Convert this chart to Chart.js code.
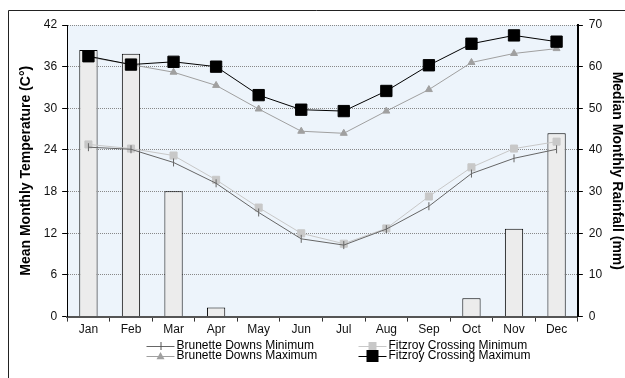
<!DOCTYPE html>
<html>
<head>
<meta charset="utf-8">
<script src="https://cdn.jsdelivr.net/npm/chart.js@4"></script>
<style>
  body { margin: 0; background: #fff; }
  #plotGraph { display: block; }
</style>
</head>
<body>
<canvas id="plotGraph" width="625" height="378"></canvas>
<script>
// データ
const months = ["Jan", "Feb", "Mar", "Apr", "May", "Jun", "Jul", "Aug", "Sep", "Oct", "Nov", "Dec"]
const rainfall = [64.0, 63.1, 30.1, 2.2, 0, 0, 0, 0, 0, 4.4, 21.1, 44.0]
const bdMin = [24.4, 24.1, 22.2, 19.2, 15.0, 11.2, 10.3, 12.6, 15.9, 20.6, 22.8, 24.1]
const bdMax = [37.4, 36.3, 35.2, 33.3, 29.9, 26.7, 26.4, 29.6, 32.7, 36.6, 37.9, 38.6]
const fcMin = [24.8, 24.2, 23.2, 19.7, 15.7, 12.0, 10.5, 12.7, 17.3, 21.5, 24.2, 25.2]
const fcMax = [37.5, 36.3, 36.7, 36.0, 31.9, 29.8, 29.6, 32.5, 36.2, 39.3, 40.5, 39.6]

const fontName = "'Liberation Sans', Arial, sans-serif"

// 枠線と背景
const framePlugin = {
  id: "frame",
  beforeDraw(chart) {
    const ctx = chart.ctx
    const a = chart.chartArea
    ctx.save()
    ctx.fillStyle = "#ffffff"
    ctx.fillRect(0, 0, chart.width, chart.height)
    ctx.strokeStyle = "#222"
    ctx.lineWidth = 1
    ctx.beginPath()
    ctx.moveTo(8.5, chart.height)
    ctx.lineTo(8.5, 10.5)
    ctx.lineTo(chart.width, 10.5)
    ctx.stroke()
    ctx.fillStyle = "#edf4fb"
    ctx.fillRect(a.left, a.top, a.right - a.left, a.bottom - a.top)
    ctx.restore()
  }
}

// 凡例(2列)
function drawMarker(ctx, style, x, y, r, color) {
  ctx.fillStyle = color
  ctx.strokeStyle = color
  ctx.beginPath()
  if (style === "rect") {
    ctx.rect(x - r, y - r, 2 * r, 2 * r)
    ctx.fill()
  } else if (style === "triangle") {
    ctx.moveTo(x, y - r)
    ctx.lineTo(x + r, y + r * 0.8)
    ctx.lineTo(x - r, y + r * 0.8)
    ctx.closePath()
    ctx.fill()
  } else if (style === "cross") {
    ctx.moveTo(x + 0.5, y - r)
    ctx.lineTo(x + 0.5, y + r)
    ctx.stroke()
  }
}

const legendPlugin = {
  id: "legend2col",
  afterDraw(chart) {
    const ctx = chart.ctx
    const cx = chart.width / 2
    const cols = [cx - 166, cx + 46]
    const rows = [346, 356]
    const items = [
      { ds: 0, col: 0, row: 0, style: "cross", r: 4, marker: "#555" },
      { ds: 2, col: 1, row: 0, style: "rect", r: 4, marker: "#c8c8c8" },
      { ds: 1, col: 0, row: 1, style: "triangle", r: 4, marker: "#a0a0a0" },
      { ds: 3, col: 1, row: 1, style: "rect", r: 6, marker: "#000" }
    ]
    ctx.save()
    ctx.font = "12px " + fontName
    ctx.textBaseline = "middle"
    items.forEach(it => {
      const ds = chart.data.datasets[it.ds]
      const x = cols[it.col]
      const y = rows[it.row]
      ctx.strokeStyle = ds.borderColor
      ctx.lineWidth = 1
      ctx.beginPath()
      ctx.moveTo(x, y + 0.5)
      ctx.lineTo(x + 28, y + 0.5)
      ctx.stroke()
      drawMarker(ctx, it.style, x + 14, y, it.r, it.marker)
      ctx.fillStyle = "#000"
      ctx.fillText(ds.label, x + 30, y)
    })
    ctx.restore()
  }
}

let mainData = {
  labels: months,
  datasets: [
    {
      type: "line",
      label: "Brunette Downs Minimum",
      data: bdMin,
      yAxisID: "y",
      borderColor: "#666",
      backgroundColor: "#666",
      borderWidth: 1,
      pointStyle: "line",
      pointRotation: 90,
      pointRadius: 4,
      pointBorderWidth: 1,
      order: 1
    },
    {
      type: "line",
      label: "Brunette Downs Maximum",
      data: bdMax,
      yAxisID: "y",
      borderColor: "#a0a0a0",
      backgroundColor: "#a0a0a0",
      borderWidth: 1,
      pointStyle: "triangle",
      pointRadius: 4,
      order: 1
    },
    {
      type: "line",
      label: "Fitzroy Crossing Minimum",
      data: fcMin,
      yAxisID: "y",
      borderColor: "#c8c8c8",
      backgroundColor: "#c8c8c8",
      borderWidth: 1,
      pointStyle: "rect",
      pointRadius: 5,
      order: 1
    },
    {
      type: "line",
      label: "Fitzroy Crossing Maximum",
      data: fcMax,
      yAxisID: "y",
      borderColor: "#000",
      backgroundColor: "#000",
      borderWidth: 1,
      pointStyle: "rect",
      pointRadius: 8,
      order: 0
    },
    {
      type: "bar",
      label: "Rainfall",
      data: rainfall,
      yAxisID: "y2",
      backgroundColor: "#ececec",
      borderColor: "#000",
      borderWidth: 1,
      borderSkipped: "bottom",
      barPercentage: 0.43,
      categoryPercentage: 1,
      order: 10
    }
  ]
}

let mainOptions = {
  responsive: false,
  animation: false,
  layout: { padding: { top: 25, left: 14, right: 0, bottom: 40 } },
  plugins: {
    legend: { display: false },
    tooltip: { enabled: false }
  },
  scales: {
    x: {
      offset: true,
      grid: { drawOnChartArea: false, offset: true, color: "#333", tickLength: 5 },
      border: { color: "#555", width: 2 },
      ticks: { color: "#111", font: { family: fontName, size: 12 }, padding: 1, maxRotation: 0 }
    },
    y: {
      position: "left",
      min: 0,
      max: 42,
      ticks: { stepSize: 6, color: "#111", font: { family: fontName, size: 12 }, padding: 5 },
      grid: { color: "#888", tickLength: 5, tickColor: "#000" },
      border: { color: "#000", width: 1, dash: [1, 1] },
      title: {
        display: true,
        text: "Mean Monthly Temperature (C°)",
        color: "#000",
        font: { family: fontName, size: 14, weight: "bold" },
        padding: 4
      }
    },
    y2: {
      position: "right",
      min: 0,
      max: 70,
      ticks: { stepSize: 10, color: "#111", font: { family: fontName, size: 12 }, padding: 6 },
      grid: { drawOnChartArea: false, tickLength: 5, color: "#000" },
      border: { color: "#000", width: 2 },
      title: {
        display: true,
        text: "Median Monthly Rainfall (mm)",
        color: "#000",
        font: { family: fontName, size: 14, weight: "bold" },
        padding: 0
      }
    }
  }
}

let mainCtx = document.getElementById("plotGraph")
let mainChartObj = new Chart(mainCtx, {
  type: "bar",
  data: mainData,
  options: mainOptions,
  plugins: [framePlugin, legendPlugin]
})
</script>
</body>
</html>
